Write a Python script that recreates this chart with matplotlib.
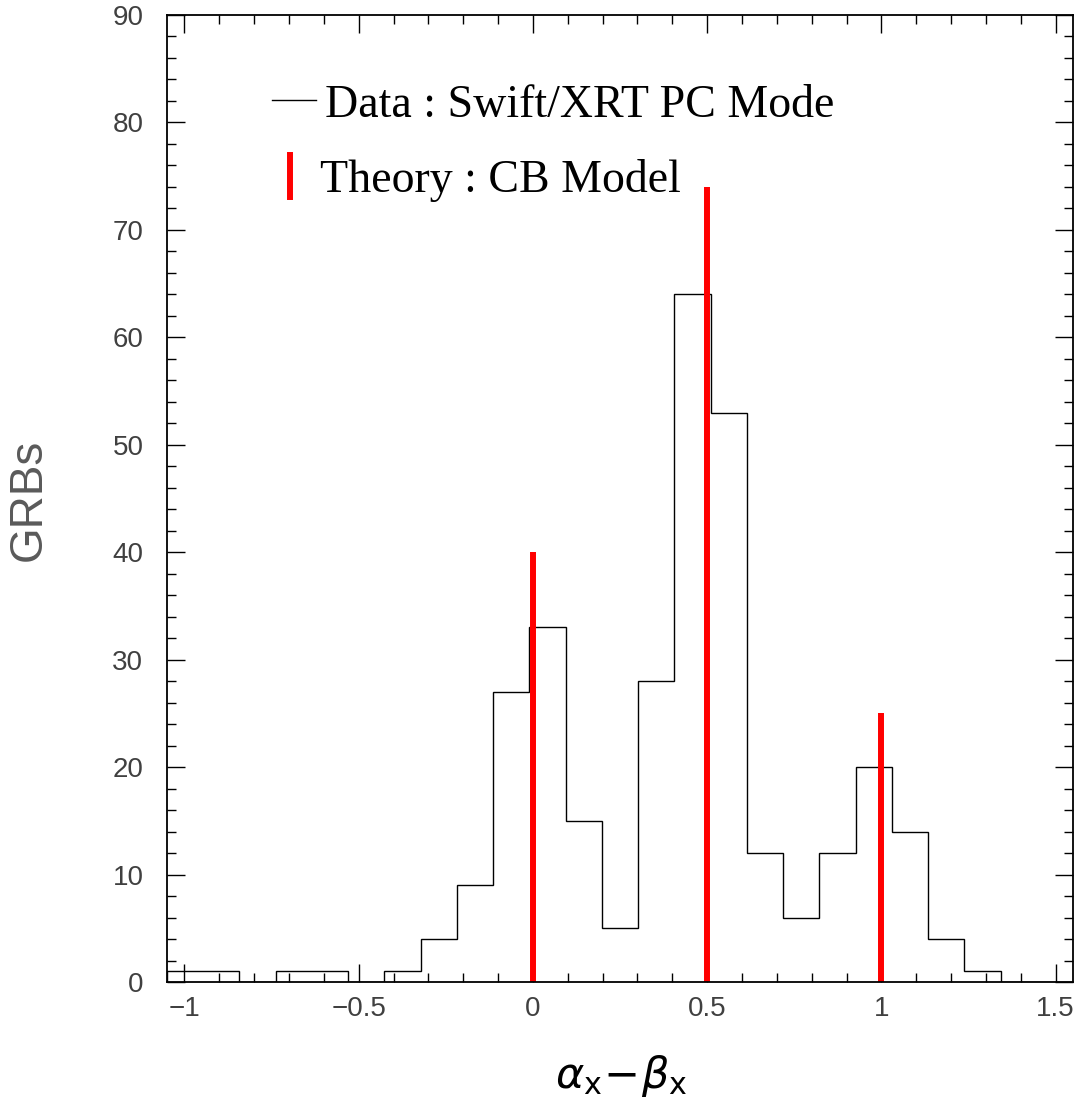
import numpy as np
import matplotlib
matplotlib.use("Agg")
import matplotlib.pyplot as plt
from matplotlib.ticker import MultipleLocator

# ---- data ----
bin_lo, bin_hi, n_bins = -1.05, 1.55, 25
counts = [1, 1, 0, 1, 1, 0, 1, 4, 9, 27, 33, 15, 5, 28, 64, 53, 12, 6, 12, 20, 14, 4, 1, 0, 0]
theory_x = [0.0, 0.5, 1.0]
theory_h = [40, 74, 25]
x_ticks = [-1, -0.5, 0, 0.5, 1, 1.5]
x_ticklabels = ["\u22121", "\u22120.5", "0", "0.5", "1", "1.5"]
y_ticks = [0, 10, 20, 30, 40, 50, 60, 70, 80, 90]
legend_labels = ["Data : Swift/XRT PC Mode", "Theory : CB Model"]

W, H = 1081, 1109
fig = plt.figure(figsize=(W / 100, H / 100), dpi=100)
ax = fig.add_axes([167 / W, 1 - 982 / H, (1073 - 167) / W, (982 - 15) / H])

edges = np.linspace(bin_lo, bin_hi, n_bins + 1)
ax.stairs(counts, edges, color="black", lw=1.0, baseline=0)
ax.vlines(theory_x, 0, theory_h, color="red", lw=4.3)

ax.set_xlim(bin_lo, bin_hi)
ax.set_ylim(0, 90)

tick_font = dict(family=["Liberation Sans", "DejaVu Sans"], size=20)
ax.set_xticks(x_ticks)
ax.set_xticklabels(x_ticklabels, color="#404040", **tick_font)
ax.set_yticks(y_ticks)
ax.set_yticklabels([str(v) for v in y_ticks], color="#404040", **tick_font)
ax.xaxis.set_minor_locator(MultipleLocator(0.1))
ax.yaxis.set_minor_locator(MultipleLocator(2))
ax.tick_params(which="both", direction="in", top=True, right=True, color="black", width=1.0)
ax.tick_params(which="major", length=13)
ax.tick_params(which="minor", length=6.5)
ax.tick_params(axis="x", which="major", pad=10)
ax.tick_params(axis="y", which="major", pad=17)
for s in ax.spines.values():
    s.set_linewidth(1.3)

# axis labels
fig.text(29 / W, 1 - 500 / H, "GRBs", rotation=90, ha="center", va="center",
         color="#5a5a5a", family=["Liberation Sans", "DejaVu Sans"], size=33)
fig.text(621 / W, 1 - 1076 / H, r"$\alpha_{\mathrm{x}}\!-\!\beta_{\mathrm{x}}$",
         ha="center", va="center", color="black", size=31)

# legend (manual, figure-pixel positions)
fig.add_artist(plt.Line2D([272 / W, 316 / W], [1 - 100 / H, 1 - 100 / H],
                          color="black", lw=1.0, transform=fig.transFigure))
fig.add_artist(plt.Line2D([289.5 / W, 289.5 / W], [1 - 155 / H, 1 - 197 / H],
                          color="red", lw=4.3, transform=fig.transFigure))
serif = ["Liberation Serif", "DejaVu Serif"]
fig.text(325 / W, 1 - 117 / H, legend_labels[0], ha="left", va="baseline",
         family=serif, size=33, color="black")
fig.text(320 / W, 1 - 192 / H, legend_labels[1], ha="left", va="baseline",
         family=serif, size=33, color="black")

fig.savefig("out.png", dpi=100)
